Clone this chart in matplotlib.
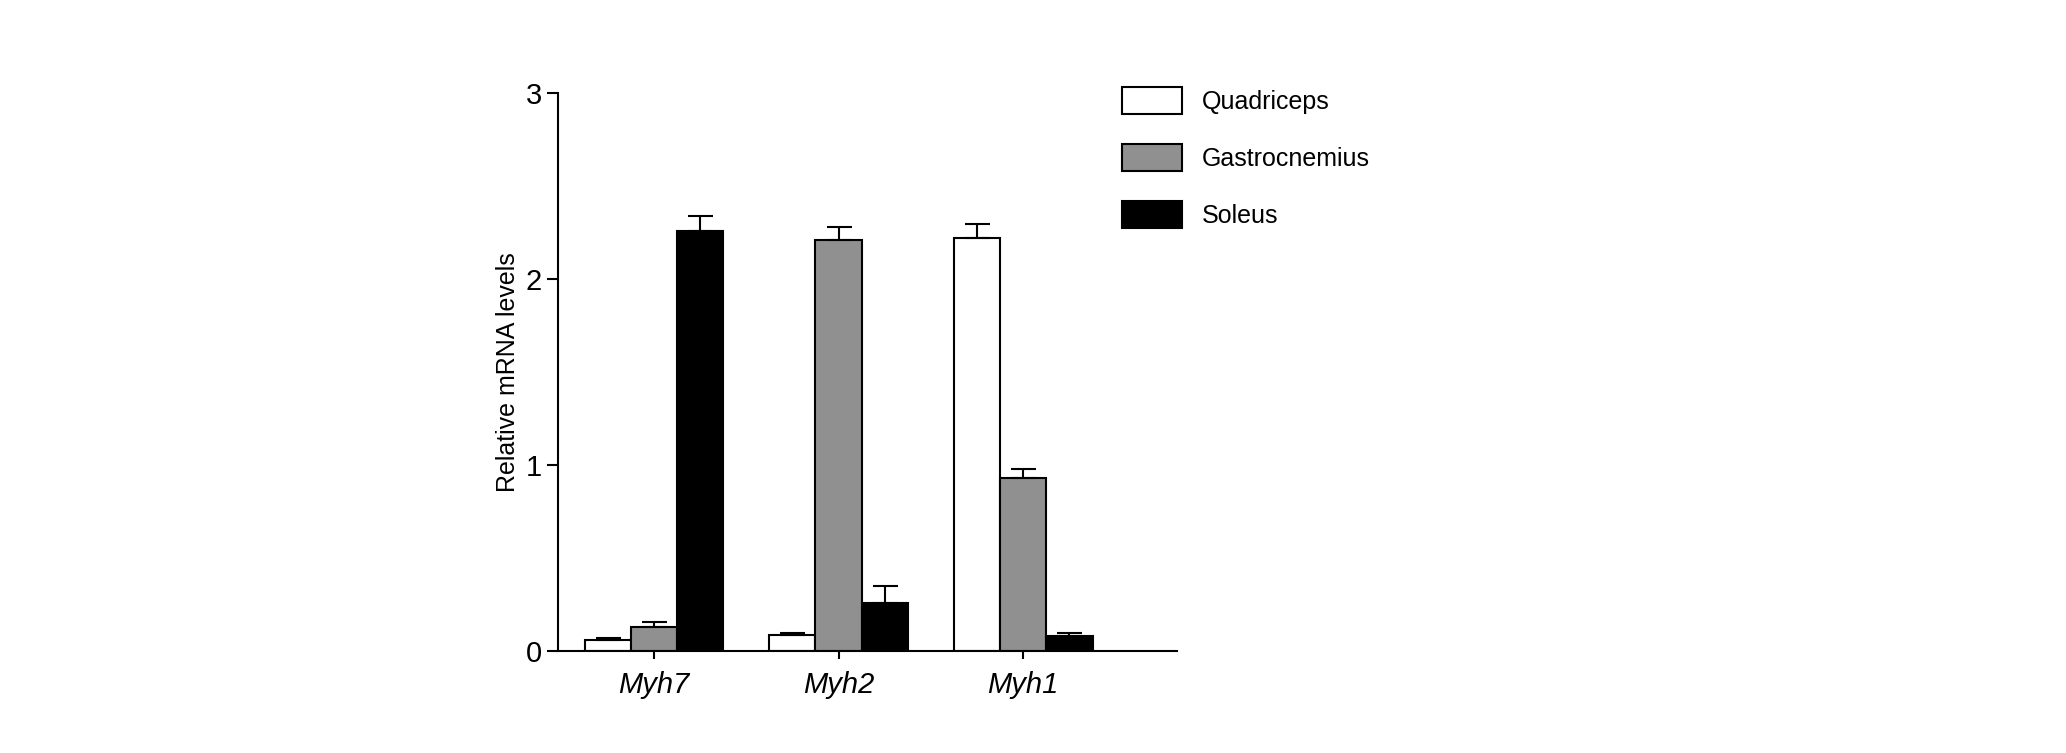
import matplotlib
matplotlib.use("Agg")
import matplotlib.pyplot as plt
import numpy as np

plt.rcParams['font.family'] = ['Liberation Sans', 'DejaVu Sans']

genes = ["Myh7", "Myh2", "Myh1"]
series = ["Quadriceps", "Gastrocnemius", "Soleus"]
quad = [0.06, 0.09, 2.22]
quad_err = [0.01, 0.01, 0.08]
gastro = [0.13, 2.21, 0.93]
gastro_err = [0.03, 0.07, 0.05]
soleus = [2.26, 0.26, 0.08]
soleus_err = [0.08, 0.09, 0.02]
colors = ["white", "#909090", "black"]

fig = plt.figure(figsize=(20.66, 7.53), dpi=100)
ax = fig.add_axes([0.270, 0.135, 0.2995, 0.741])
x = np.arange(len(genes))
w = 0.25
for i, (vals, errs, c, lab) in enumerate(zip([quad, gastro, soleus], [quad_err, gastro_err, soleus_err], colors, series)):
    ax.bar(x + (i - 1) * w, vals, w, color=c, edgecolor="black", linewidth=1.5, label=lab,
           yerr=[np.zeros(len(errs)), errs], error_kw=dict(ecolor="black", elinewidth=1.5, capsize=9, capthick=1.5))

ax.set_xlim(-0.52, 2.83)
ax.set_ylim(0, 3)
ax.set_yticks([0, 1, 2, 3])
ax.set_xticks(x)
ax.set_xticklabels(genes, fontstyle="italic", fontsize=21)
ax.tick_params(axis='y', labelsize=21, width=1.5, length=8)
ax.tick_params(axis='x', width=1.5, length=6, pad=8)
for s in ["top", "right"]:
    ax.spines[s].set_visible(False)
for s in ["left", "bottom"]:
    ax.spines[s].set_linewidth(1.5)
ax.set_ylabel("Relative mRNA levels", fontsize=18)

ax.legend(loc="upper left", bbox_to_anchor=(0.895, 1.03), frameon=False, fontsize=18,
          handlelength=2.4, handleheight=1.3, labelspacing=1.2, handletextpad=0.8, borderaxespad=0)

fig.savefig("out.png", dpi=100)
